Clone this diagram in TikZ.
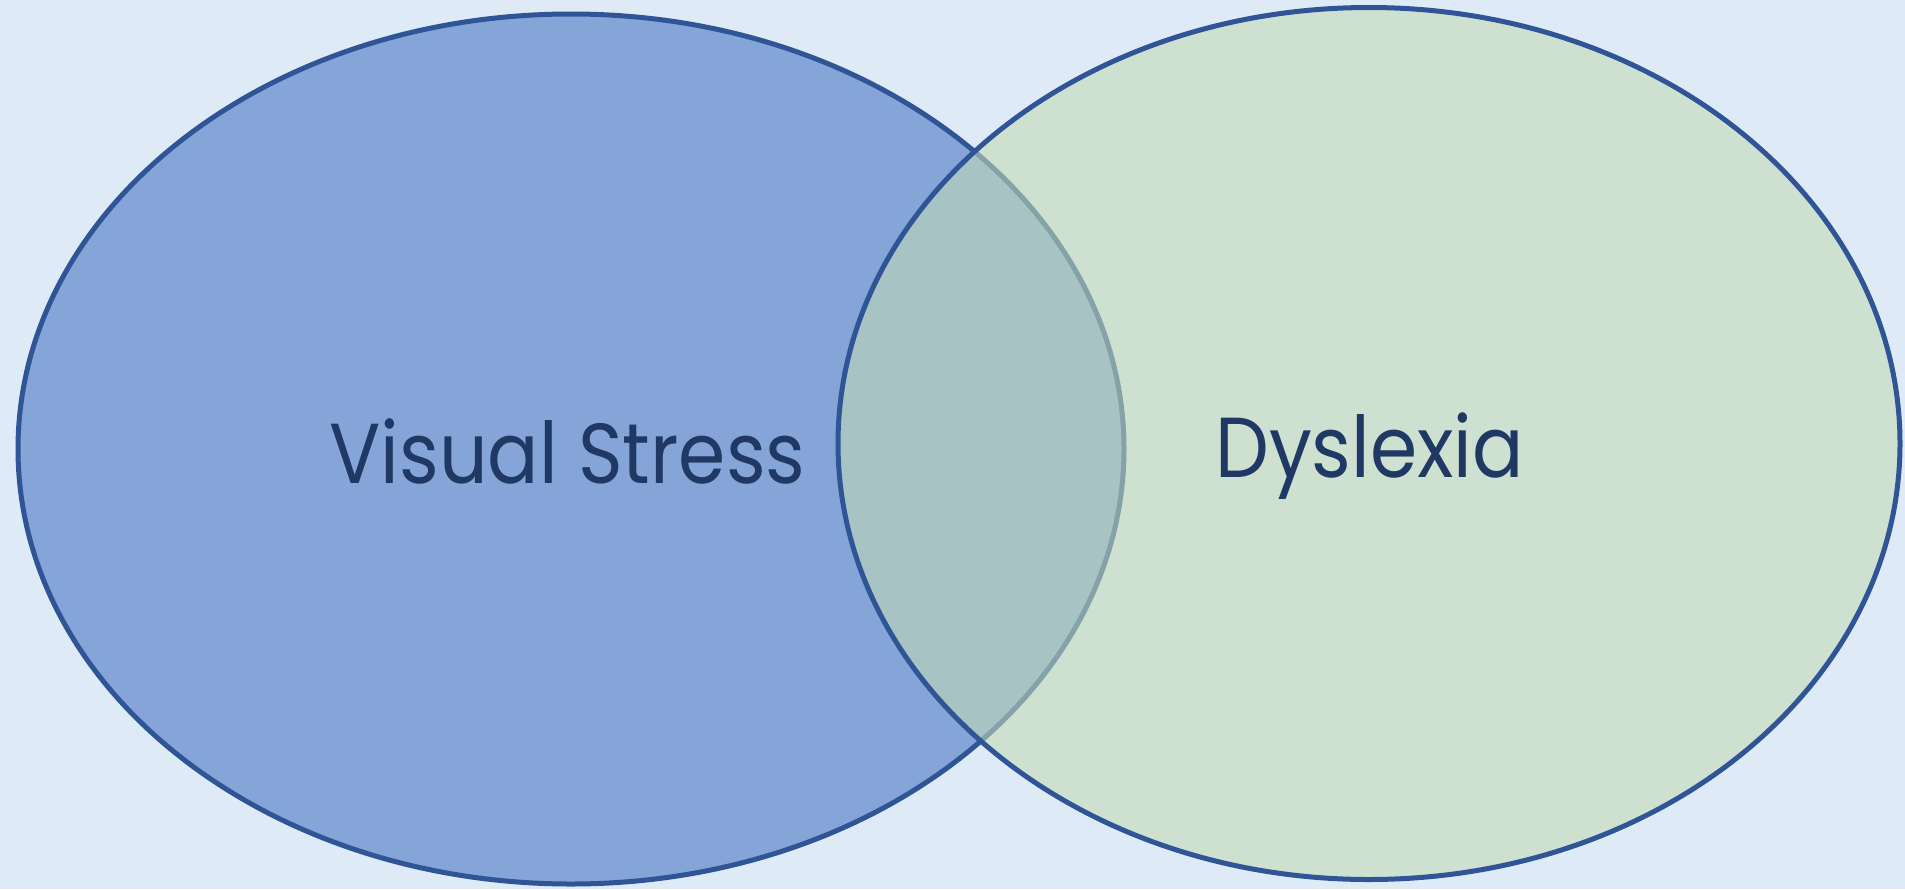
\documentclass[tikz,border=0pt]{standalone}
\usepackage{fontspec}
\setmainfont{Poppins}
\usetikzlibrary{shapes.geometric}

\definecolor{paper}{RGB}{222,234,246}
\definecolor{setblue}{RGB}{133,165,217}
\definecolor{setgreen}{RGB}{195,218,181}
\definecolor{rim}{RGB}{47,85,151}
\definecolor{ink}{RGB}{31,56,100}

\tikzset{
  setshape/.style={ellipse, inner sep=0pt, outer sep=0pt, draw=rim, line width=5pt},
  setlabel/.style={anchor=base, text=ink, inner sep=0pt,
    font=\fontsize{76}{90}\selectfont}
}
% slightly taller lettering for the set names
\newcommand{\tallname}[1]{\scalebox{1}[1.12]{#1}}

\begin{document}
\begin{tikzpicture}[x=1pt,y=-1pt]
  % canvas
  \fill[paper] (0,0) rectangle (1905,889);
  \useasboundingbox (0,0) rectangle (1905,889);

  % the two overlapping sets
  \node[setshape, fill=setblue, minimum width=1106pt, minimum height=870pt]
    (vs) at (571,449) {};
  \node[setshape, fill=setgreen, fill opacity=0.58, draw opacity=1,
    minimum width=1062pt, minimum height=872pt]
    (dx) at (1369,443.5) {};

  % set names
  \node[setlabel] (vslabel) at (567.5,483) {\tallname{Visual Stress}};
  \node[setlabel] (dxlabel) at (1369.5,477) {\tallname{Dyslexia}};
\end{tikzpicture}
\end{document}
